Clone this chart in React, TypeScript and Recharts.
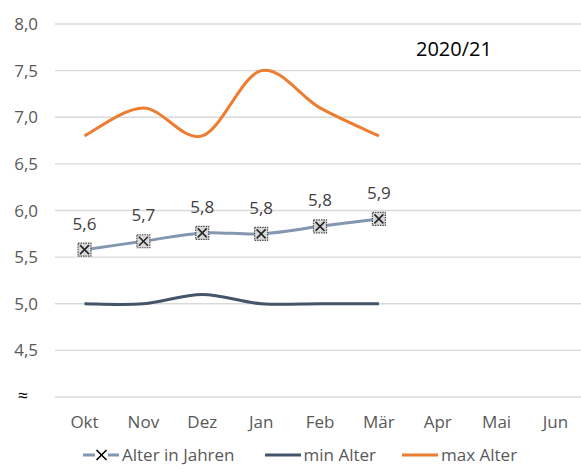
import React from 'react';
import { LineChart, Line, XAxis, YAxis, CartesianGrid, Legend, LabelList, Customized } from 'recharts';

const months = ['Okt', 'Nov', 'Dez', 'Jan', 'Feb', 'Mär', 'Apr', 'Mai', 'Jun'];
const alterInJahren: (number | null)[] = [5.58, 5.67, 5.76, 5.75, 5.83, 5.91, null, null, null];
const minAlter: (number | null)[] = [5.0, 5.0, 5.1, 5.0, 5.0, 5.0, null, null, null];
const maxAlter: (number | null)[] = [6.8, 7.1, 6.8, 7.5, 7.1, 6.8, null, null, null];
const yTicks = [4, 4.5, 5, 5.5, 6, 6.5, 7, 7.5, 8];
const title = '2020/21';
const seriesOrder = ['alter', 'min', 'max'];

const data = months.map((m, i) => ({
  month: m,
  alter: alterInJahren[i],
  min: minAlter[i],
  max: maxAlter[i],
}));

const FONT = '"Open Sans", "Noto Sans", sans-serif';

// Excel-like smoothed line (Catmull-Rom through the points)
const excelCurve: any = (context: any) => {
  let pts: [number, number][] = [];
  return {
    areaStart() {},
    areaEnd() {},
    lineStart() {
      pts = [];
    },
    point(x: number, y: number) {
      pts.push([+x, +y]);
    },
    lineEnd() {
      const n = pts.length;
      if (!n) return;
      context.moveTo(pts[0][0], pts[0][1]);
      if (n === 1) return;
      for (let i = 0; i < n - 1; i++) {
        const p0 = pts[i - 1] || pts[i];
        const p1 = pts[i];
        const p2 = pts[i + 1];
        const p3 = pts[i + 2] || pts[i + 1];
        context.bezierCurveTo(
          p1[0] + (p2[0] - p0[0]) / 6,
          p1[1] + (p2[1] - p0[1]) / 6,
          p2[0] - (p3[0] - p1[0]) / 6,
          p2[1] - (p3[1] - p1[1]) / 6,
          p2[0],
          p2[1]
        );
      }
    },
  };
};

const fmt = (v: any) => (v == null ? '' : Number(v).toFixed(1).replace('.', ','));

const YTick = (props: any) => {
  const { x, y, payload } = props;
  if (payload.value === 4) {
    return (
      <text x={23} y={y} dy={5} textAnchor="middle" fill="#000" fontSize={18} fontFamily={FONT}>
        ≈
      </text>
    );
  }
  return (
    <text x={x} y={y} dy="0.355em" textAnchor="end" fill="#595959" fontSize={17} fontFamily={FONT}>
      {fmt(payload.value)}
    </text>
  );
};

const XMarker = (props: any) => {
  const { cx, cy, index } = props;
  if (cx == null || cy == null || props.value == null) return <g key={`d${index}`} />;
  const s = 6.5;
  const c = 4.5;
  return (
    <g key={`d${index}`}>
      <rect x={cx - s} y={cy - s} width={2 * s} height={2 * s} fill="#d9d9d9" stroke="#4d4d4d" strokeWidth={1.2} strokeDasharray="1.5 1" />
      <line x1={cx - c} y1={cy - c} x2={cx + c} y2={cy + c} stroke="#262626" strokeWidth={1.6} />
      <line x1={cx - c} y1={cy + c} x2={cx + c} y2={cy - c} stroke="#262626" strokeWidth={1.6} />
    </g>
  );
};

const LegendContent = (props: any) => {
  const payload = [...(props.payload || [])].sort(
    (a: any, b: any) => seriesOrder.indexOf(a.dataKey) - seriesOrder.indexOf(b.dataKey)
  );
  return (
    <div style={{ display: 'flex', alignItems: 'center', height: 35, paddingLeft: 83, fontFamily: FONT, fontSize: 17, color: '#595959' }}>
      {payload.map((p: any, i: number) => (
        <div key={i} style={{ display: 'flex', alignItems: 'center', marginRight: i === 0 ? 30 : 26 }}>
          <svg width={37} height={14} style={{ display: 'block', marginRight: 2 }}>
            <line x1={0} y1={7} x2={36} y2={7} stroke={p.color} strokeWidth={3} />
            {p.dataKey === 'alter' && (
              <g>
                <rect x={12} y={0} width={13} height={14} fill="#fff" />
                <line x1={13.5} y1={2} x2={23.5} y2={12} stroke="#000" strokeWidth={1.6} />
                <line x1={13.5} y1={12} x2={23.5} y2={2} stroke="#000" strokeWidth={1.6} />
              </g>
            )}
          </svg>
          <span style={{ lineHeight: '20px' }}>{p.value}</span>
        </div>
      ))}
    </div>
  );
};

const Title = () => (
  <text x={416} y={56} fill="#000" fontSize={20} fontFamily={FONT}>
    {title}
  </text>
);

export default function App() {
  return (
    <div style={{ position: 'absolute', left: 0, top: 0, width: 581, height: 472, overflow: 'hidden', background: '#fff' }}>
      <LineChart width={600} height={472} data={data} margin={{ top: 24, right: 15, bottom: 0, left: 0 }}>
        <CartesianGrid vertical={false} stroke="#d9d9d9" strokeWidth={1.3} />
        <XAxis
          dataKey="month"
          axisLine={false}
          tickLine={false}
          tickSize={0}
          tickMargin={19}
          height={40}
          padding={{ left: 29.5, right: 29.5 }}
          tick={{ fill: '#595959', fontSize: 17, fontFamily: FONT }}
        />
        <YAxis
          domain={[4, 8]}
          ticks={yTicks}
          interval={0}
          axisLine={false}
          tickLine={false}
          tickSize={0}
          tickMargin={17}
          width={55}
          tick={<YTick />}
        />
        <Legend verticalAlign="bottom" align="left" height={35} wrapperStyle={{ left: 0, width: 581 }} content={<LegendContent />} />
        <Line
          dataKey="alter"
          name="Alter in Jahren"
          type={excelCurve}
          stroke="#8497b0"
          strokeWidth={3}
          dot={XMarker}
          activeDot={false}
          isAnimationActive={false}
        >
          <LabelList dataKey="alter" position="top" offset={20} formatter={fmt} fill="#404040" fontSize={17} fontFamily={FONT} />
        </Line>
        <Line
          dataKey="min"
          name="min Alter"
          type={excelCurve}
          stroke="#44546a"
          strokeWidth={3}
          dot={false}
          activeDot={false}
          isAnimationActive={false}
        />
        <Line
          dataKey="max"
          name="max Alter"
          type={excelCurve}
          stroke="#ed7d31"
          strokeWidth={3}
          dot={false}
          activeDot={false}
          isAnimationActive={false}
        />
        <Customized component={Title} />
      </LineChart>
    </div>
  );
}
